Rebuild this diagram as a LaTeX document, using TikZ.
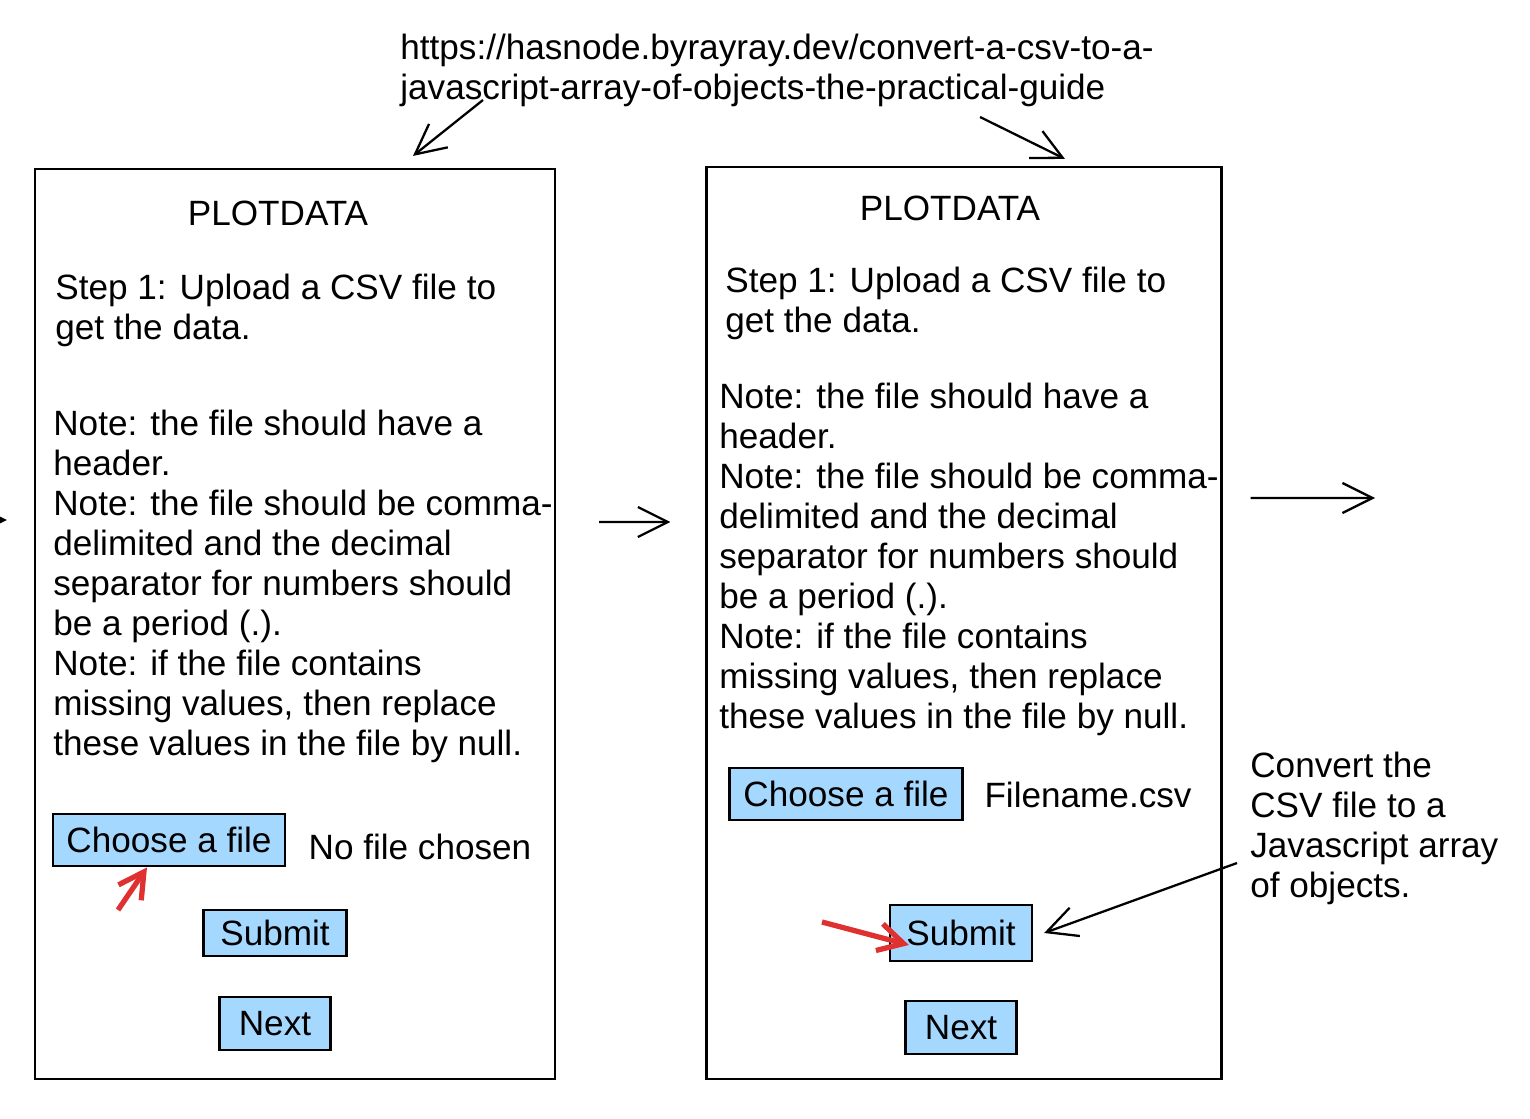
\documentclass[tikz,border=0pt]{standalone}
\usepackage{fontspec}
\setmainfont{Liberation Sans}
\usepackage{xcolor}
\usetikzlibrary{arrows.meta,positioning}
\definecolor{btnblue}{HTML}{A5D8FF}
\definecolor{markred}{HTML}{E03131}
\newcommand{\hand}{\fontsize{20}{22.76}\selectfont}

\begin{document}
\begin{tikzpicture}[x=0.02cm, y=-0.02cm, font=\hand,
	panel/.style={draw, line width=1.3pt, minimum width=10.4cm, minimum height=18.2cm},
	btn/.style={draw, line width=1.3pt, fill=btnblue, minimum height=1.05cm},
	txt/.style={align=left, inner sep=0pt, anchor=north west},
	arr/.style={-{Straight Barb[length=6mm,width=6mm]}, line width=1.3pt},
	hint/.style={-{Straight Barb[length=5mm,width=5.5mm]}, markred, line width=3pt}]
	\useasboundingbox (0,0) rectangle (1530,1118);

	% link on top
	\node[txt] (url) at (400,34) {https://hasnode.byrayray.dev/convert-a-csv-to-a-\\javascript-array-of-objects-the-practical-guide};

	% first screen
	\node[panel] (pA) at (295,624) {};
	\node (titleA) at (278,213) {PLOTDATA};
	\node[txt] (stepA) at (55,274) {Step 1: Upload a CSV file to\\get the data.};
	\node[txt] (notesA) at (53,410) {Note: the file should have a\\header.\\Note: the file should be comma-\\delimited and the decimal\\separator for numbers should\\be a period (.).\\Note: if the file contains\\missing values, then replace\\these values in the file by null.};
	\node[btn, minimum width=4.64cm] (chA) at (169,840) {Choose a file};
	\node (nofile) at (420,847) {No file chosen};
	\node[btn, minimum width=2.86cm, minimum height=0.92cm] (subA) at (275,933) {Submit};
	\node[btn, minimum width=2.22cm] (nextA) [below=0.78cm of subA] {Next};

	% second screen
	\node[panel, minimum width=10.3cm, minimum height=18.24cm] (pB) at (964,623) {};
	\node (titleB) at (950,208) {PLOTDATA};
	\node[txt] (stepB) at (725,267) {Step 1: Upload a CSV file to\\get the data.};
	\node[txt] (notesB) at (719,383) {Note: the file should have a\\header.\\Note: the file should be comma-\\delimited and the decimal\\separator for numbers should\\be a period (.).\\Note: if the file contains\\missing values, then replace\\these values in the file by null.};
	\node[btn, minimum width=4.66cm] (chB) at (846,794) {Choose a file};
	\node (fname) at (1088,795) {Filename.csv};
	\node[btn, minimum width=2.84cm, minimum height=1.12cm] (subB) at (961,933) {Submit};
	\node[btn, minimum width=2.22cm] (nextB) [below=0.76cm of subB] {Next};

	\node[txt] (conv) at (1250,752) {Convert the\\CSV file to a\\Javascript array\\of objects.};

	% arrows
	\coordinate (uA) at (483,100);
	\coordinate (uB) at (980,117);
	\coordinate (inL) at (-40,520);
	\coordinate (outR) at (1375,498);
	\coordinate (cv) at (1237,863);
	\coordinate (redA) at (118,910);
	\coordinate (redB) at (822,922);
	\draw[arr] (uA) -- ([xshift=2.36cm,yshift=0.24cm]pA.north);
	\draw[arr] (uB) -- ([xshift=2.02cm,yshift=0.14cm]pB.north);
	\draw[arr] (inL) -- ([xshift=-0.54cm,yshift=2.08cm]pA.west);
	\draw[arr] ([xshift=0.86cm,yshift=2.04cm]pA.east) -- ([xshift=-0.7cm,yshift=2.02cm]pB.west);
	\draw[arr] ([xshift=0.56cm,yshift=2.5cm]pB.east) -- (outR);
	\draw[arr] (cv) -- ([xshift=0.22cm]subB.east);
	\draw[hint] (redA) -- ([xshift=-0.44cm]chA.south);
	\draw[hint] (redB) -- ([xshift=0.4cm,yshift=-0.24cm]subB.west);
\end{tikzpicture}
\end{document}
